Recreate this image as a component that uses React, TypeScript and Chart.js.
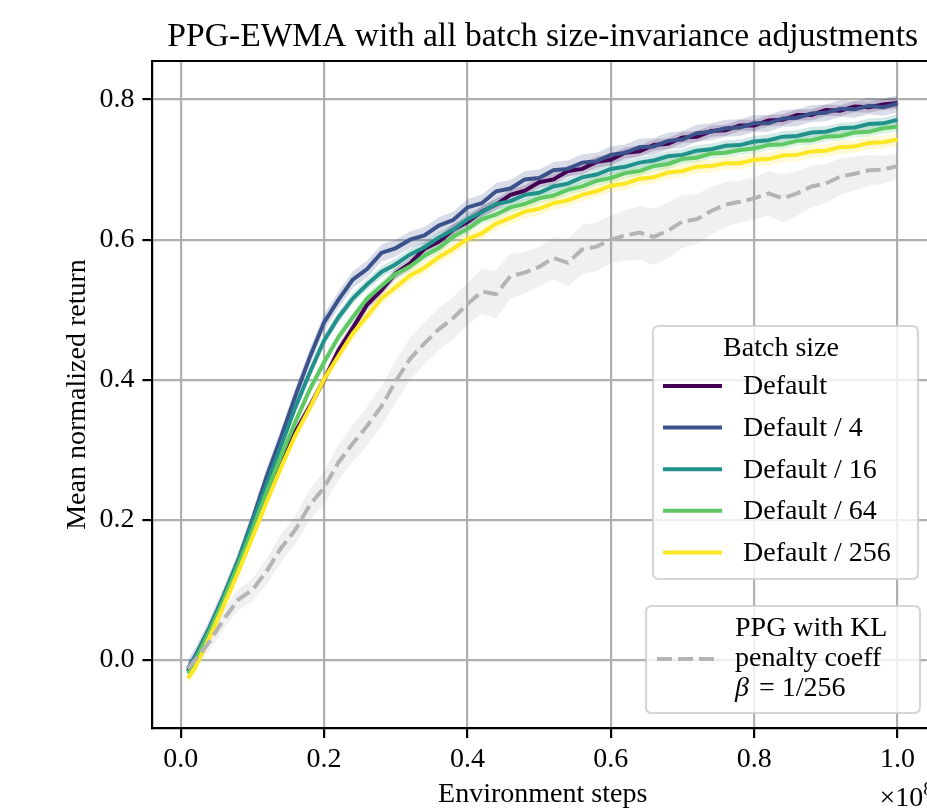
import React, { useEffect, useRef } from "react";
import { Chart, registerables } from "chart.js";

Chart.register(...registerables);

const FONT = "'Liberation Serif', 'Times New Roman', serif";

const TITLE = "PPG-EWMA with all batch size-invariance adjustments";
const X_LABEL = "Environment steps";
const Y_LABEL = "Mean normalized return";
const LEGEND_TITLE = "Batch size";
const KL_LABEL_LINES = ["PPG with KL", "penalty coeff"];

const X_TICKS = [0, 0.2, 0.4, 0.6, 0.8, 1.0];
const Y_TICKS = [0, 0.2, 0.4, 0.6, 0.8];

// Environment steps (×1e8)
const STEPS = [0.01, 0.02, 0.04, 0.06, 0.08, 0.10, 0.12, 0.14, 0.16, 0.18, 0.20, 0.22, 0.24, 0.26, 0.28, 0.30, 0.32, 0.34, 0.36, 0.38, 0.40, 0.42, 0.44, 0.46, 0.48, 0.50, 0.52, 0.54, 0.56, 0.58, 0.60, 0.62, 0.64, 0.66, 0.68, 0.70, 0.72, 0.74, 0.76, 0.78, 0.80, 0.82, 0.84, 0.86, 0.88, 0.90, 0.92, 0.94, 0.96, 0.98, 1.00];

const DEFAULT_RET = [-0.016, 0.000, 0.040, 0.086, 0.134, 0.186, 0.236, 0.282, 0.326, 0.362, 0.400, 0.442, 0.474, 0.507, 0.528, 0.552, 0.566, 0.587, 0.597, 0.614, 0.625, 0.640, 0.650, 0.664, 0.670, 0.682, 0.686, 0.698, 0.701, 0.711, 0.714, 0.724, 0.726, 0.735, 0.737, 0.746, 0.747, 0.755, 0.756, 0.763, 0.763, 0.770, 0.771, 0.778, 0.778, 0.785, 0.784, 0.790, 0.789, 0.793, 0.795];
const DEFAULT_4_RET = [-0.012, 0.005, 0.046, 0.092, 0.142, 0.200, 0.262, 0.318, 0.377, 0.432, 0.482, 0.514, 0.543, 0.558, 0.581, 0.588, 0.600, 0.606, 0.620, 0.628, 0.646, 0.652, 0.669, 0.673, 0.686, 0.688, 0.699, 0.701, 0.710, 0.712, 0.721, 0.724, 0.732, 0.733, 0.741, 0.743, 0.752, 0.754, 0.759, 0.760, 0.766, 0.766, 0.773, 0.774, 0.780, 0.781, 0.787, 0.786, 0.791, 0.789, 0.794];
const DEFAULT_16_RET = [-0.013, 0.003, 0.045, 0.091, 0.141, 0.196, 0.251, 0.306, 0.361, 0.410, 0.456, 0.489, 0.516, 0.536, 0.554, 0.565, 0.579, 0.589, 0.603, 0.614, 0.629, 0.639, 0.651, 0.655, 0.664, 0.667, 0.676, 0.680, 0.689, 0.693, 0.701, 0.704, 0.710, 0.713, 0.719, 0.721, 0.727, 0.729, 0.734, 0.735, 0.740, 0.742, 0.747, 0.748, 0.753, 0.754, 0.759, 0.760, 0.765, 0.766, 0.771];
const DEFAULT_64_RET = [-0.019, -0.002, 0.040, 0.086, 0.135, 0.186, 0.240, 0.291, 0.340, 0.386, 0.425, 0.461, 0.489, 0.516, 0.534, 0.551, 0.562, 0.577, 0.588, 0.604, 0.615, 0.629, 0.636, 0.646, 0.651, 0.659, 0.663, 0.671, 0.676, 0.684, 0.688, 0.695, 0.698, 0.705, 0.708, 0.715, 0.717, 0.723, 0.724, 0.728, 0.730, 0.735, 0.736, 0.741, 0.742, 0.747, 0.748, 0.753, 0.754, 0.759, 0.761];
const DEFAULT_256_RET = [-0.026, -0.011, 0.032, 0.078, 0.125, 0.175, 0.226, 0.275, 0.321, 0.360, 0.401, 0.434, 0.466, 0.491, 0.516, 0.532, 0.549, 0.560, 0.575, 0.587, 0.601, 0.609, 0.623, 0.631, 0.640, 0.644, 0.652, 0.656, 0.664, 0.669, 0.677, 0.680, 0.687, 0.689, 0.696, 0.698, 0.704, 0.705, 0.709, 0.709, 0.714, 0.715, 0.720, 0.721, 0.726, 0.727, 0.732, 0.733, 0.738, 0.739, 0.743];
const PPG_KL_RET = [-0.012, 0.000, 0.026, 0.058, 0.086, 0.100, 0.127, 0.160, 0.186, 0.221, 0.246, 0.282, 0.309, 0.334, 0.362, 0.398, 0.430, 0.452, 0.472, 0.488, 0.508, 0.526, 0.522, 0.548, 0.553, 0.561, 0.574, 0.567, 0.586, 0.590, 0.600, 0.606, 0.610, 0.604, 0.613, 0.626, 0.629, 0.641, 0.650, 0.654, 0.659, 0.666, 0.659, 0.666, 0.676, 0.680, 0.690, 0.694, 0.699, 0.700, 0.705];

// half-width of the shaded bands
const PPG_KL_SPREAD = [0.008, 0.010, 0.012, 0.014, 0.015, 0.016, 0.018, 0.020, 0.020, 0.022, 0.024, 0.025, 0.026, 0.028, 0.028, 0.030, 0.030, 0.030, 0.030, 0.030, 0.030, 0.032, 0.034, 0.032, 0.030, 0.028, 0.030, 0.034, 0.035, 0.035, 0.034, 0.036, 0.038, 0.040, 0.040, 0.038, 0.036, 0.034, 0.032, 0.030, 0.030, 0.032, 0.034, 0.032, 0.030, 0.028, 0.026, 0.024, 0.022, 0.020, 0.018];
const DEFAULT_SPREAD = 0.008;
const DEFAULT_4_SPREAD = 0.012;
const DEFAULT_16_SPREAD = 0.008;
const DEFAULT_64_SPREAD = 0.007;
const DEFAULT_256_SPREAD = 0.009;

const SERIES = [
  { label: "Default", values: DEFAULT_RET, spread: DEFAULT_SPREAD, color: "#440154", band: "rgba(68,1,84,0.18)" },
  { label: "Default / 4", values: DEFAULT_4_RET, spread: DEFAULT_4_SPREAD, color: "#3b528b", band: "rgba(59,82,139,0.2)" },
  { label: "Default / 16", values: DEFAULT_16_RET, spread: DEFAULT_16_SPREAD, color: "#21918c", band: "rgba(33,145,140,0.2)" },
  { label: "Default / 64", values: DEFAULT_64_RET, spread: DEFAULT_64_SPREAD, color: "#5ec962", band: "rgba(94,201,98,0.2)" },
  { label: "Default / 256", values: DEFAULT_256_RET, spread: DEFAULT_256_SPREAD, color: "#fde725", band: "rgba(253,231,37,0.2)" },
];
const KL_COLOR = "#b4b4b4";
const KL_BAND = "rgba(128,128,128,0.12)";

export default function App() {
  const ref = useRef<HTMLCanvasElement>(null);

  useEffect(() => {
    const canvas = ref.current;
    if (!canvas) return;

    const datasets: any[] = [];
    const band = (vals: number[], spread: (i: number) => number, color: string) => {
      datasets.push({
        data: STEPS.map((x, i) => ({ x, y: vals[i] - spread(i) })),
        borderColor: "rgba(0,0,0,0)",
        borderWidth: 0,
        pointRadius: 0,
        fill: false,
        order: 50,
      });
      datasets.push({
        data: STEPS.map((x, i) => ({ x, y: vals[i] + spread(i) })),
        borderColor: "rgba(0,0,0,0)",
        borderWidth: 0,
        pointRadius: 0,
        backgroundColor: color,
        fill: "-1",
        order: 50,
      });
    };
    band(PPG_KL_RET, (i) => PPG_KL_SPREAD[i], KL_BAND);
    SERIES.forEach((s) => band(s.values, () => s.spread, s.band));

    SERIES.forEach((s, k) => {
      datasets.push({
        label: s.label,
        data: STEPS.map((x, i) => ({ x, y: s.values[i] })),
        borderColor: s.color,
        borderWidth: 4,
        pointRadius: 0,
        fill: false,
        tension: 0,
        order: 10 - k,
      });
    });
    datasets.push({
      label: "PPG KL",
      data: STEPS.map((x, i) => ({ x, y: PPG_KL_RET[i] })),
      borderColor: KL_COLOR,
      borderWidth: 4,
      borderDash: [15, 6],
      pointRadius: 0,
      fill: false,
      order: 1,
    });

    const overlay = {
      id: "overlay",
      afterDraw(chart: any) {
        const { ctx, chartArea: ca } = chart;
        ctx.save();
        // top spine
        ctx.strokeStyle = "#000";
        ctx.lineWidth = 2.2;
        ctx.beginPath();
        ctx.moveTo(ca.left - 1.1, ca.top);
        ctx.lineTo(ca.right, ca.top);
        ctx.stroke();

        ctx.fillStyle = "#000";
        // title
        ctx.font = `33.6px ${FONT}`;
        ctx.textAlign = "center";
        ctx.textBaseline = "alphabetic";
        ctx.fillText(TITLE, (ca.left + ca.right) / 2, 46);

        // x label
        ctx.font = `28px ${FONT}`;
        ctx.fillText(X_LABEL, (ca.left + ca.right) / 2, 802);

        // offset text ×10^8
        ctx.textAlign = "right";
        ctx.font = `19.6px ${FONT}`;
        const supW = ctx.measureText("8").width;
        ctx.fillText("8", ca.right, 795);
        ctx.font = `28px ${FONT}`;
        ctx.fillText("×10", ca.right - supW, 806);

        // y label
        ctx.save();
        ctx.translate(85, (ca.top + ca.bottom) / 2);
        ctx.rotate(-Math.PI / 2);
        ctx.textAlign = "center";
        ctx.textBaseline = "alphabetic";
        ctx.fillText(Y_LABEL, 0, 0);
        ctx.restore();

        const box = (x0: number, y0: number, x1: number, y1: number) => {
          const r = 6;
          ctx.beginPath();
          ctx.moveTo(x0 + r, y0);
          ctx.lineTo(x1 - r, y0);
          ctx.quadraticCurveTo(x1, y0, x1, y0 + r);
          ctx.lineTo(x1, y1 - r);
          ctx.quadraticCurveTo(x1, y1, x1 - r, y1);
          ctx.lineTo(x0 + r, y1);
          ctx.quadraticCurveTo(x0, y1, x0, y1 - r);
          ctx.lineTo(x0, y0 + r);
          ctx.quadraticCurveTo(x0, y0, x0 + r, y0);
          ctx.closePath();
          ctx.fillStyle = "rgba(255,255,255,0.8)";
          ctx.fill();
          ctx.strokeStyle = "rgba(204,204,204,0.8)";
          ctx.lineWidth = 2.2;
          ctx.stroke();
        };

        // legend 1
        box(653, 326, 918, 579);
        ctx.fillStyle = "#000";
        ctx.font = `28px ${FONT}`;
        ctx.textAlign = "center";
        ctx.textBaseline = "middle";
        ctx.fillText(LEGEND_TITLE, 781, 349);
        ctx.textAlign = "left";
        SERIES.forEach((s, k) => {
          const y = 386 + k * 41.6;
          ctx.strokeStyle = s.color;
          ctx.lineWidth = 4;
          ctx.setLineDash([]);
          ctx.beginPath();
          ctx.moveTo(663, y);
          ctx.lineTo(722, y);
          ctx.stroke();
          ctx.fillStyle = "#000";
          ctx.fillText(s.label, 743, y + 1);
        });

        // legend 2
        box(646, 606, 920, 713);
        ctx.strokeStyle = KL_COLOR;
        ctx.lineWidth = 4;
        ctx.setLineDash([15, 6]);
        ctx.beginPath();
        ctx.moveTo(657, 659);
        ctx.lineTo(714, 659);
        ctx.stroke();
        ctx.setLineDash([]);
        ctx.fillStyle = "#000";
        ctx.textAlign = "left";
        ctx.textBaseline = "middle";
        ctx.font = `28px ${FONT}`;
        ctx.fillText(KL_LABEL_LINES[0], 735, 629);
        ctx.fillText(KL_LABEL_LINES[1], 735, 659);
        ctx.font = `italic 28px ${FONT}`;
        ctx.fillText("β", 735, 689);
        const bw = ctx.measureText("β").width;
        ctx.font = `28px ${FONT}`;
        ctx.fillText(" = 1/256", 735 + bw + 3, 689);

        ctx.restore();
      },
    };

    const chart = new Chart(canvas, {
      type: "line",
      data: { datasets },
      options: {
        animation: false,
        responsive: false,
        devicePixelRatio: 1,
        layout: { padding: { left: 0, top: 61, right: 27, bottom: 0 } },
        plugins: {
          legend: { display: false },
          title: { display: false },
          tooltip: { enabled: false },
          filler: { propagate: false },
        },
        scales: {
          x: {
            type: "linear",
            min: -0.0395,
            max: 1.0495,
            afterBuildTicks: (scale: any) => {
              scale.ticks = X_TICKS.map((v) => ({ value: v }));
            },
            afterFit: (scale: any) => {
              scale.height = 82;
            },
            ticks: {
              font: { family: FONT, size: 28 },
              color: "#000",
              padding: 5,
              maxRotation: 0,
              autoSkip: false,
              callback: (v: any) => Number(v).toFixed(1),
            },
            grid: {
              color: "#b0b0b0",
              lineWidth: 2.2,
              tickColor: "#000",
              tickLength: 10,
              tickWidth: 2.2,
              drawTicks: true,
            },
            border: { display: true, color: "#000", width: 2.2 },
          },
          y: {
            type: "linear",
            min: -0.097,
            max: 0.855,
            afterBuildTicks: (scale: any) => {
              scale.ticks = Y_TICKS.map((v) => ({ value: v }));
            },
            afterFit: (scale: any) => {
              scale.width = 152.4;
            },
            ticks: {
              font: { family: FONT, size: 28 },
              color: "#000",
              padding: 8,
              autoSkip: false,
              callback: (v: any) => Number(v).toFixed(1),
            },
            grid: {
              color: "#b0b0b0",
              lineWidth: 2.2,
              tickColor: "#000",
              tickLength: 10,
              tickWidth: 2.2,
              drawTicks: true,
            },
            border: { display: true, color: "#000", width: 2.2 },
          },
        },
      },
      plugins: [overlay],
    } as any);

    return () => chart.destroy();
  }, []);

  return (
    <div style={{ position: "fixed", left: 0, top: 0, width: 927, height: 810, overflow: "hidden", background: "#fff" }}>
      <canvas ref={ref} width={960} height={810} style={{ display: "block" }} />
    </div>
  );
}
